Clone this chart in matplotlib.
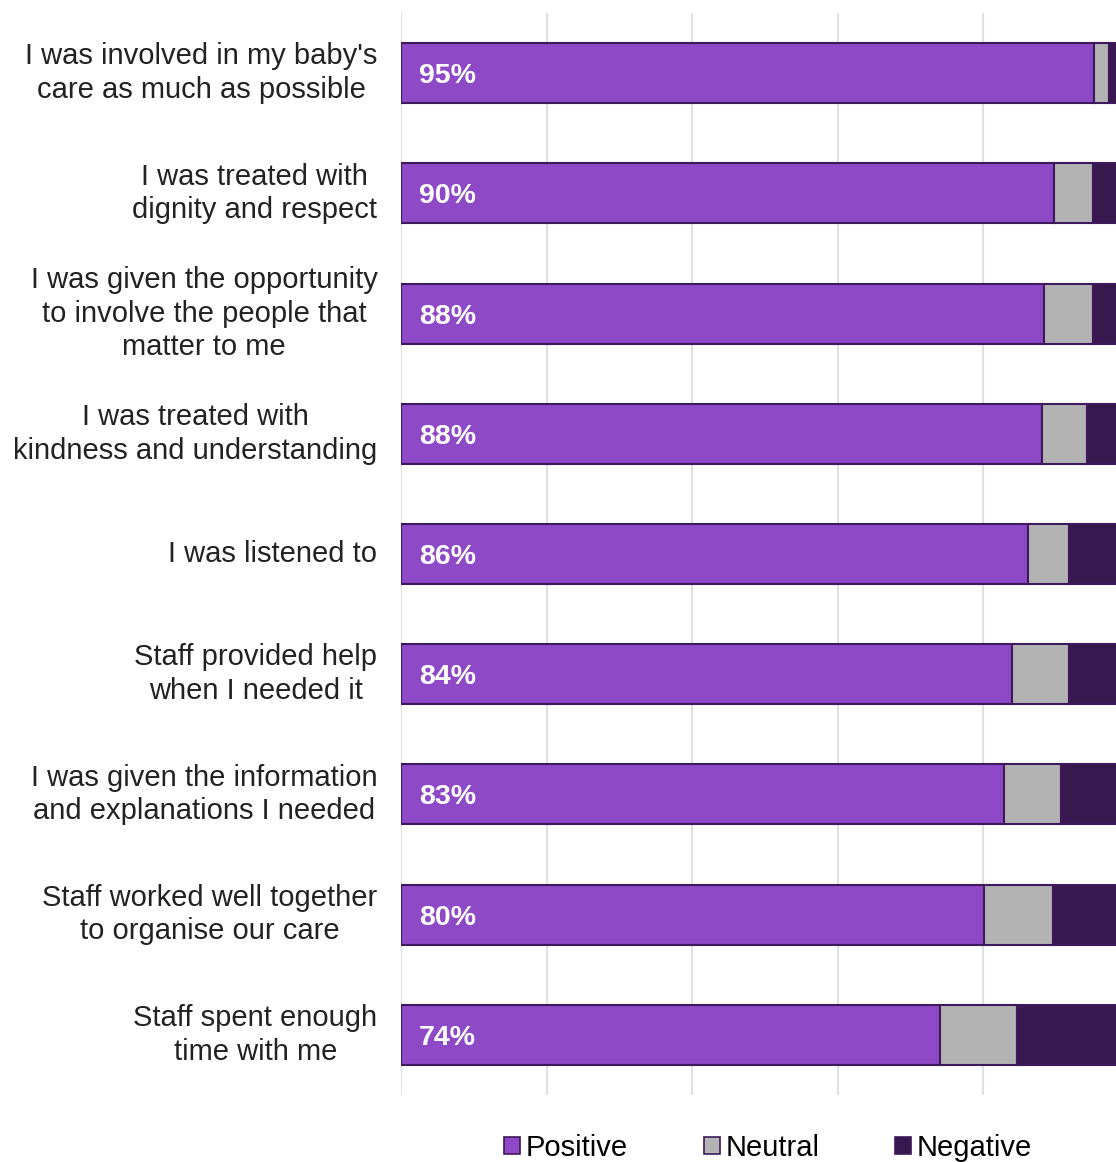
import matplotlib
matplotlib.use("Agg")
import matplotlib.pyplot as plt
from matplotlib.patches import Patch

categories = [
    "I was involved in my baby's\ncare as much as possible",
    "I was treated with\ndignity and respect",
    "I was given the opportunity\nto involve the people that\nmatter to me",
    "I was treated with\nkindness and understanding",
    "I was listened to",
    "Staff provided help\nwhen I needed it",
    "I was given the information\nand explanations I needed",
    "Staff worked well together\nto organise our care",
    "Staff spent enough\ntime with me",
]
positive = [95.3, 89.8, 88.4, 88.1, 86.2, 84.0, 82.9, 80.1, 74.1]
neutral = [2.0, 5.3, 6.7, 6.2, 5.6, 7.8, 7.8, 9.5, 10.6]
negative = [2.7, 4.9, 4.9, 5.7, 8.2, 8.2, 9.3, 10.4, 15.3]
pct_labels = ["95%", "90%", "88%", "88%", "86%", "84%", "83%", "80%", "74%"]
series_names = ["Positive", "Neutral", "Negative"]

plt.rcParams['font.family'] = ['Liberation Sans', 'DejaVu Sans']

c_pos = "#8E49C6"
c_neu = "#B3B3B3"
c_neg = "#39184F"
edge = "#3E1A5C"

fig = plt.figure(figsize=(11.16, 11.62), dpi=100)
W, H = 1116, 1162
ax = fig.add_axes([401 / W, 1 - 1095 / H, (1116 - 401) / W, (1095 - 13) / H])

y = list(range(len(categories)))
h = 0.5
ax.barh(y, positive, height=h, color=c_pos, edgecolor=edge, linewidth=1.5, zorder=3)
left2 = positive
ax.barh(y, neutral, left=left2, height=h, color=c_neu, edgecolor=edge, linewidth=1.5, zorder=3)
left3 = [p + n for p, n in zip(positive, neutral)]
ax.barh(y, negative, left=left3, height=h, color=c_neg, edgecolor=edge, linewidth=1.5, zorder=3)

for yi, lab in zip(y, pct_labels):
    ax.annotate(lab, xy=(0, yi), xytext=(18, -3), textcoords="offset pixels",
                ha="left", va="center", color="white", fontsize=20.5, fontweight="bold", zorder=5)

ax.set_xticks([0, 20, 40, 60, 80, 100])
ax.set_xlim(0, (1116 - 401) / 7.275)
ax.set_ylim(len(categories) - 0.5, -0.5)
ax.tick_params(axis="x", length=0, labelbottom=False)
ax.set_yticks(y)
ax.set_yticklabels(categories, fontsize=21, color="#222222", multialignment="center",
                   linespacing=1.25, va="center")
ax.tick_params(axis="y", length=0, pad=17)
ax.grid(axis="x", color="#E0E0E0", linewidth=1.5, zorder=0)
for s in ax.spines.values():
    s.set_visible(False)

handles = [Patch(facecolor=c, edgecolor=edge, linewidth=1.2) for c in (c_pos, c_neu, c_neg)]
fig.legend(handles, series_names, loc="center", bbox_to_anchor=(768 / W, 1 - 1148 / H),
           ncol=3, frameon=False, fontsize=21, handlelength=0.55, handleheight=0.55,
           handletextpad=0.2, columnspacing=2.6, borderpad=0)

fig.savefig("out.png", dpi=100)
